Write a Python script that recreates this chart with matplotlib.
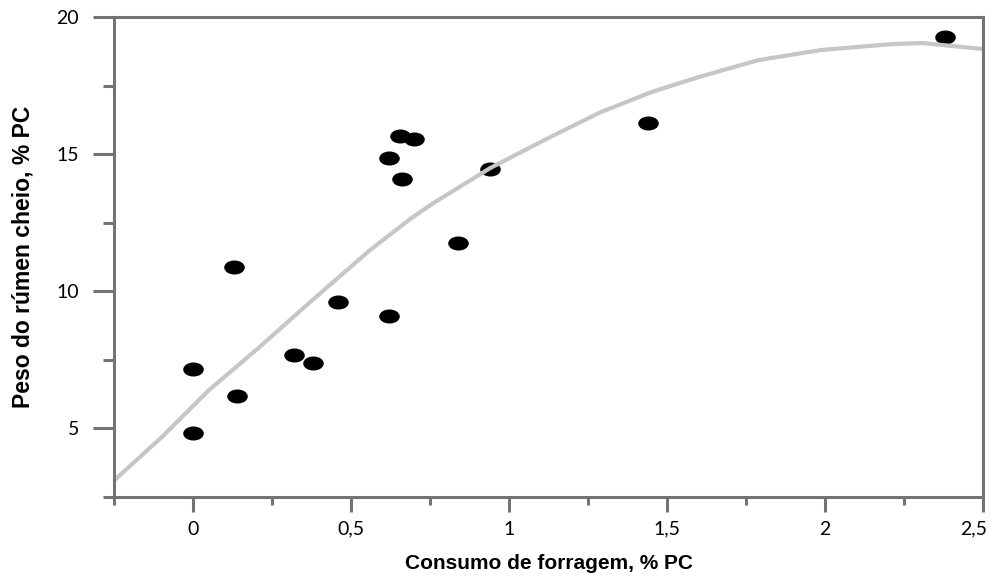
import numpy as np
import matplotlib
matplotlib.use("Agg")
import matplotlib.pyplot as plt
from matplotlib.path import Path
from matplotlib.ticker import MultipleLocator
from matplotlib.transforms import ScaledTranslation

# Pontos observados
consumo = [0.0, 0.0, 0.13, 0.14, 0.32, 0.38, 0.46, 0.62, 0.62, 0.655, 0.66, 0.70, 0.84, 0.94, 1.44, 2.38]
peso = [4.82, 7.15, 10.88, 6.17, 7.66, 7.37, 9.6, 9.09, 14.85, 15.66, 14.09, 15.55, 11.75, 14.45, 16.13, 19.27]

# Curva ajustada
curva_x = [-0.25, -0.10, 0.05, 0.21, 0.37, 0.56, 0.69, 0.76, 0.94, 1.13, 1.29,
           1.45, 1.60, 1.79, 1.99, 2.21, 2.31, 2.5]
curva_y = [3.10, 4.67, 6.39, 7.96, 9.60, 11.50, 12.66, 13.21, 14.49, 15.62, 16.53,
           17.26, 17.81, 18.43, 18.80, 19.01, 19.05, 18.83]

xticks = [0, 0.5, 1, 1.5, 2, 2.5]
xtick_labels = ["0", "0,5", "1", "1,5", "2", "2,5"]
yticks = [5, 10, 15, 20]

cor_eixo = "#737373"

# marcador elíptico
circ = Path.unit_circle()
elipse = Path(circ.vertices * np.array([1.0, 0.66]), circ.codes)

fig = plt.figure(figsize=(9.92, 5.8), dpi=100)
ax = fig.add_axes([0.1149, 0.1431, 0.9910 - 0.1149, 0.9707 - 0.1431])

ax.scatter(consumo, peso, marker=elipse, s=190, color="black", zorder=2)
ax.plot(curva_x, curva_y, color="#c6c6c6", linewidth=3, zorder=3,
        solid_capstyle="butt", solid_joinstyle="round")

ax.set_xlim(-0.25, 2.5)
ax.set_ylim(2.5, 20)

ax.set_xticks(xticks)
ax.set_xticklabels(xtick_labels)
ax.set_yticks(yticks)
ax.xaxis.set_minor_locator(MultipleLocator(0.25))
ax.yaxis.set_minor_locator(MultipleLocator(2.5))

for s in ax.spines.values():
    s.set_color(cor_eixo)
    s.set_linewidth(2.2)
    s.set_zorder(4)

ax.tick_params(which="major", direction="out", color=cor_eixo, width=2.2,
               labelsize=14, labelcolor="black")
ax.tick_params(axis="y", which="major", length=15, pad=10)
ax.tick_params(axis="x", which="major", length=11, pad=6)
ax.tick_params(axis="y", which="minor", length=8, width=2.2, color=cor_eixo)
ax.tick_params(axis="x", which="minor", length=6, width=2.2, color=cor_eixo)

for lab in ax.get_xticklabels() + ax.get_yticklabels():
    lab.set_family(["Lato", "DejaVu Sans"])

# último rótulo do eixo x um pouco à esquerda, como no original
ultimo = ax.get_xticklabels()[-1]
ultimo.set_transform(ultimo.get_transform() + ScaledTranslation(-7 / 72, 0, fig.dpi_scale_trans))

ax.set_xlabel("Consumo de forragem, % PC", fontsize=15, fontweight="bold",
              family="Liberation Sans", labelpad=12)
ax.set_ylabel("Peso do rúmen cheio, % PC", fontsize=16.5, fontweight="bold",
              family="Liberation Sans", labelpad=16)

fig.savefig("out.png", dpi=100)
